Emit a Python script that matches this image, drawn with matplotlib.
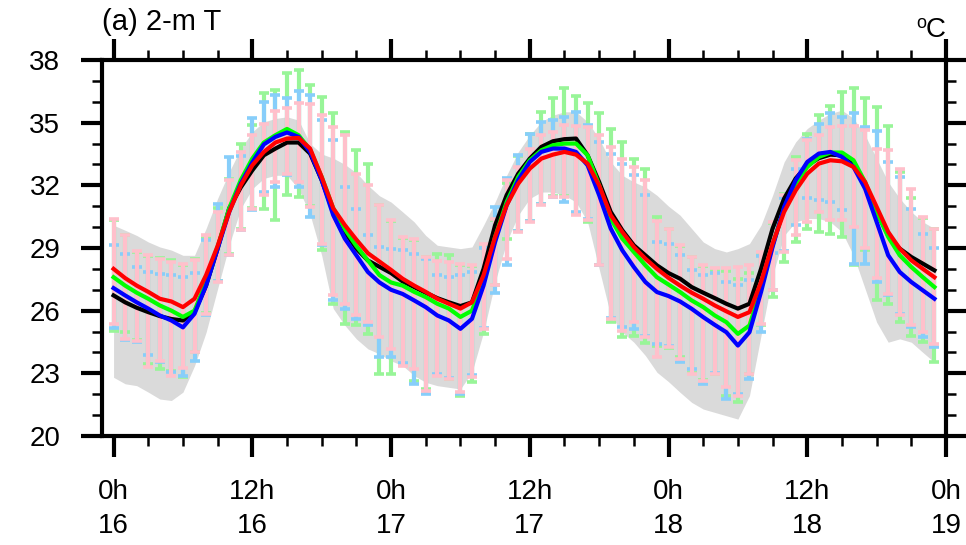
import matplotlib
matplotlib.use("Agg")
import matplotlib.pyplot as plt
from matplotlib.ticker import MultipleLocator
import numpy as np

plt.rcParams["font.family"] = ["Liberation Sans", "DejaVu Sans"]

# -------------------------------------------------
# Hourly 2-m temperature, 0h 16 -> 23h 18 (deg C)
# -------------------------------------------------

hours = np.arange(72)

obs_black = [
    26.73, 26.40, 26.14, 25.93, 25.74, 25.60, 25.53, 25.93, 27.20, 28.97, 30.90, 31.90,
    32.72, 33.44, 33.76, 34.05, 34.05, 33.52, 32.25, 30.73, 29.77, 28.97, 28.40, 28.10,
    27.80, 27.40, 27.13, 26.86, 26.60, 26.40, 26.22, 26.40, 28.00, 30.09, 31.53, 32.56,
    33.28, 33.84, 34.11, 34.21, 34.24, 33.44, 32.16, 30.73, 29.85, 29.13, 28.65, 28.17,
    27.80, 27.53, 27.13, 26.86, 26.60, 26.33, 26.10, 26.33, 28.00, 29.93, 31.37, 32.33,
    32.96, 33.30, 33.47, 33.44, 33.04, 32.00, 30.73, 29.60, 28.97, 28.57, 28.25, 27.93,
]

run_red = [
    28.00, 27.56, 27.20, 26.90, 26.57, 26.44, 26.17, 26.57, 27.70, 29.10, 30.73, 32.00,
    32.96, 33.60, 34.05, 34.24, 34.27, 33.76, 32.40, 30.90, 30.10, 29.40, 28.75, 28.35,
    27.95, 27.53, 27.20, 26.90, 26.57, 26.33, 26.10, 26.40, 27.70, 29.53, 31.05, 32.08,
    32.80, 33.28, 33.47, 33.60, 33.47, 33.04, 32.00, 30.57, 29.77, 29.05, 28.49, 28.00,
    27.57, 27.20, 26.86, 26.57, 26.25, 25.97, 25.70, 25.93, 27.37, 29.21, 30.73, 31.76,
    32.56, 33.04, 33.20, 33.15, 32.88, 32.16, 30.97, 29.77, 28.97, 28.41, 28.00, 27.60,
]

run_green = [
    27.60, 27.20, 26.86, 26.57, 26.25, 26.00, 25.70, 26.00, 27.36, 29.05, 30.90, 32.25,
    33.28, 34.05, 34.40, 34.70, 34.40, 33.70, 32.40, 30.90, 29.90, 29.10, 28.40, 27.70,
    27.35, 27.20, 26.90, 26.65, 26.33, 26.10, 25.70, 26.00, 27.53, 29.53, 31.20, 32.40,
    33.20, 33.68, 33.92, 34.00, 34.00, 33.44, 32.00, 30.41, 29.45, 28.81, 28.17, 27.60,
    27.25, 26.89, 26.49, 26.17, 25.77, 25.45, 24.89, 25.29, 27.05, 29.13, 30.89, 32.08,
    32.88, 33.36, 33.57, 33.57, 33.20, 32.16, 30.73, 29.53, 28.65, 28.09, 27.60, 27.13,
]

run_blue = [
    27.08, 26.73, 26.40, 26.10, 25.77, 25.53, 25.20, 25.85, 27.20, 28.97, 30.73, 32.08,
    33.10, 33.96, 34.32, 34.53, 34.32, 33.60, 32.25, 30.57, 29.45, 28.65, 27.85, 27.35,
    27.00, 26.80, 26.49, 26.17, 25.77, 25.53, 25.13, 25.61, 27.20, 29.29, 31.05, 32.25,
    33.12, 33.60, 33.76, 33.76, 33.60, 32.96, 31.53, 29.93, 28.89, 28.09, 27.37, 26.89,
    26.70, 26.44, 26.09, 25.69, 25.32, 24.97, 24.33, 24.97, 26.89, 29.05, 30.97, 32.25,
    33.12, 33.52, 33.60, 33.36, 32.88, 31.84, 30.25, 28.65, 27.85, 27.37, 26.97, 26.57,
]

# grey envelope
shade_hi = [
    30.09, 29.85, 29.60, 29.29, 29.05, 28.90, 28.65, 28.65, 29.93, 31.37, 32.64, 33.76,
    34.56, 35.04, 35.20, 35.28, 35.12, 34.00, 33.50, 33.30, 33.00, 32.60, 32.00, 31.50,
    31.20, 30.73, 30.25, 29.60, 29.13, 29.05, 28.97, 29.05, 30.09, 31.20, 32.48, 33.60,
    34.40, 35.04, 35.36, 35.52, 35.52, 35.04, 34.24, 33.12, 32.48, 32.16, 31.92, 31.52,
    31.00, 30.57, 29.93, 29.29, 28.97, 28.81, 28.97, 29.21, 30.09, 31.52, 33.12, 34.08,
    34.72, 35.12, 35.44, 35.60, 35.20, 34.40, 33.28, 32.16, 31.37, 30.73, 30.25, 29.93,
]

shade_lo = [
    22.81, 22.50, 22.41, 22.10, 21.77, 21.70, 22.10, 23.36, 24.96, 27.05, 29.13, 30.89,
    31.84, 32.33, 32.48, 32.48, 31.84, 30.60, 28.65, 26.10, 25.30, 24.65, 24.17, 23.93,
    23.60, 23.37, 22.89, 22.57, 22.41, 22.33, 22.25, 23.05, 24.97, 27.37, 29.29, 30.57,
    31.37, 31.68, 31.68, 31.52, 31.20, 30.25, 28.00, 25.77, 24.97, 24.49, 23.85, 23.05,
    22.60, 22.09, 21.61, 21.29, 21.13, 20.97, 20.81, 21.93, 24.81, 27.69, 29.60, 30.25,
    30.41, 30.41, 30.25, 29.77, 28.65, 27.05, 25.45, 24.49, 24.65, 24.49, 24.00, 23.53,
]

# ensemble ranges (pink, green, light blue)
pink_hi = [
    30.40, 29.64, 28.84, 28.65, 28.49, 28.33, 28.25, 28.41, 29.60, 30.73, 32.25, 33.60,
    34.40, 34.96, 35.55, 35.68, 35.92, 35.87, 35.36, 34.80, 34.40, 32.52, 32.00, 31.04,
    30.33, 29.53, 29.41, 28.57, 28.36, 28.33, 28.25, 28.20, 29.21, 30.41, 32.25, 32.88,
    33.76, 34.40, 34.56, 34.88, 34.85, 34.80, 34.40, 33.84, 33.28, 32.88, 32.25, 30.28,
    29.93, 29.16, 28.57, 28.20, 28.04, 28.04, 28.07, 28.17, 28.81, 30.25, 31.53, 33.20,
    34.16, 34.40, 34.80, 34.85, 34.85, 34.64, 33.76, 33.68, 32.80, 31.84, 30.49, 29.93,
]

pink_lo = [
    25.37, 24.65, 24.57, 23.30, 23.61, 22.86, 23.24, 24.01, 25.85, 27.37, 28.65, 29.85,
    30.89, 31.53, 32.16, 32.56, 32.16, 30.97, 29.20, 26.73, 26.33, 25.77, 25.45, 24.73,
    24.17, 23.37, 23.21, 22.17, 22.86, 22.73, 22.09, 22.81, 25.13, 27.21, 28.49, 29.77,
    30.25, 31.05, 31.44, 31.44, 30.60, 30.33, 28.17, 25.61, 25.05, 25.45, 24.73, 23.77,
    24.25, 23.69, 22.97, 22.65, 22.97, 22.33, 21.93, 22.97, 25.37, 26.97, 28.81, 29.61,
    30.25, 30.73, 30.33, 30.33, 30.01, 29.00, 27.56, 26.81, 25.80, 25.29, 24.97, 24.41,
]

green_hi = [
    30.33, 29.60, 28.80, 28.60, 28.52, 28.41, 28.20, 28.49, 29.50, 30.90, 32.30, 34.00,
    34.90, 36.40, 36.56, 37.36, 37.52, 36.80, 36.24, 35.44, 34.53, 33.68, 33.04, 31.04,
    30.30, 29.50, 29.40, 28.55, 28.70, 28.65, 28.20, 28.15, 29.15, 30.35, 32.10, 33.40,
    34.48, 35.49, 36.16, 36.64, 36.29, 35.92, 35.44, 34.69, 34.08, 33.28, 32.80, 30.49,
    29.90, 29.10, 28.55, 28.15, 27.95, 27.90, 27.53, 27.80, 28.75, 30.20, 31.60, 33.36,
    34.44, 35.36, 35.81, 36.45, 36.64, 36.20, 35.76, 34.85, 32.64, 31.41, 30.45, 29.90,
]

green_lo = [
    25.05, 24.97, 24.60, 23.45, 23.21, 23.13, 22.81, 24.00, 25.90, 27.40, 28.70, 29.90,
    30.90, 30.89, 30.33, 31.53, 31.45, 31.00, 28.89, 26.33, 25.37, 25.29, 24.89, 22.97,
    22.97, 23.40, 22.65, 22.25, 22.90, 22.75, 21.93, 22.57, 24.86, 27.25, 29.45, 29.80,
    30.30, 31.10, 31.50, 31.50, 30.65, 30.25, 28.20, 25.48, 24.73, 24.81, 24.46, 24.33,
    24.20, 23.77, 23.00, 22.70, 22.95, 21.93, 21.61, 22.95, 25.30, 26.65, 28.33, 29.29,
    29.93, 29.77, 29.65, 29.53, 28.17, 28.90, 26.49, 26.33, 25.45, 24.81, 24.49, 23.53,
]

blue_hi = [
    29.13, 28.73, 28.09, 27.85, 27.77, 27.69, 27.61, 27.80, 29.40, 31.12, 33.36, 33.40,
    35.20, 36.00, 36.32, 36.16, 36.51, 36.32, 35.12, 34.16, 31.92, 30.89, 29.60, 29.05,
    28.97, 28.90, 28.70, 28.49, 27.69, 27.61, 27.70, 27.85, 29.00, 30.97, 32.33, 33.44,
    34.48, 35.04, 35.12, 35.28, 35.52, 34.88, 34.08, 33.50, 33.00, 32.50, 31.52, 29.29,
    29.21, 28.65, 27.93, 27.69, 27.82, 27.37, 27.24, 27.45, 28.60, 28.77, 31.37, 32.80,
    34.24, 34.96, 35.44, 35.28, 35.44, 34.80, 34.60, 33.12, 32.40, 30.89, 29.69, 29.00,
]

blue_lo = [
    25.16, 24.60, 24.52, 23.88, 23.53, 23.08, 22.89, 23.61, 25.80, 27.40, 28.65, 29.85,
    30.81, 31.68, 31.92, 32.48, 31.92, 30.49, 29.13, 26.49, 26.09, 25.61, 25.29, 23.77,
    23.77, 23.50, 22.49, 22.01, 22.95, 22.80, 22.01, 22.90, 25.15, 26.86, 28.17, 29.80,
    30.30, 31.10, 31.45, 31.20, 30.73, 30.41, 28.20, 25.65, 25.21, 25.10, 24.80, 24.40,
    24.30, 23.53, 23.21, 22.49, 23.00, 21.77, 22.00, 22.73, 24.97, 27.00, 28.85, 30.09,
    31.37, 31.29, 31.20, 30.81, 28.25, 28.25, 27.37, 26.73, 25.85, 25.21, 24.73, 24.25,
]

x_ticks = [0, 12, 24, 36, 48, 60, 72]
x_labels = ["0h\n16", "12h\n16", "0h\n17", "12h\n17", "0h\n18", "12h\n18", "0h\n19"]
y_ticks = [20, 23, 26, 29, 32, 35, 38]


def draw_range(ax, lo, hi, color, z):
    lo = np.asarray(lo)
    hi = np.asarray(hi)
    mid = (lo + hi) / 2
    ax.errorbar(
        hours, mid,
        yerr=[mid - lo, hi - mid],
        fmt="none",
        ecolor=color,
        elinewidth=3,
        capsize=3.6,
        capthick=2.6,
        zorder=z
    )


# -------------------------------------------------
# Figure
# -------------------------------------------------

fig = plt.figure(figsize=(9.66, 5.45), dpi=100)
ax = fig.add_axes([0.1056, 0.2, 0.8737, 0.6899])

ax.fill_between(hours, shade_lo, shade_hi, color="#dadada", lw=0, zorder=1)

draw_range(ax, green_lo, green_hi, "#98f598", 2)
draw_range(ax, blue_lo, blue_hi, "#87cefa", 3)
draw_range(ax, pink_lo, pink_hi, "#ffc0cb", 4)

ax.plot(hours, obs_black, color="black", lw=3, zorder=5)
ax.plot(hours, run_green, color="#00ff00", lw=3, zorder=6)
ax.plot(hours, run_blue, color="#0000ff", lw=3, zorder=7)
ax.plot(hours, run_red, color="#ff0000", lw=3, zorder=8)

ax.set_xlim(-1, 72)
ax.set_ylim(20, 38)

ax.set_xticks(x_ticks)
ax.set_xticklabels(x_labels, linespacing=1.4)
ax.xaxis.set_minor_locator(MultipleLocator(3))
ax.set_yticks(y_ticks)
ax.yaxis.set_minor_locator(MultipleLocator(1))

ax.tick_params(which="major", direction="out", length=15, width=3,
               top=True, right=True, labelsize=20, pad=16)
ax.tick_params(which="minor", direction="out", length=7, width=1.8,
               top=True, right=True)
ax.tick_params(axis="y", which="major", pad=15)

for s in ax.spines.values():
    s.set_linewidth(3)

ax.text(0.0, 1.08, "(a) 2-m T", transform=ax.transAxes,
        fontsize=21, ha="left", va="baseline")
ax.text(1.0, 1.06, "C", transform=ax.transAxes,
        fontsize=20, ha="right", va="baseline")
ax.annotate("o", xy=(1.0, 1.06), xycoords="axes fraction",
            xytext=(-14, 7), textcoords="offset points",
            fontsize=13, ha="right", va="baseline")

fig.savefig("out.png", dpi=100)
plt.close(fig)
